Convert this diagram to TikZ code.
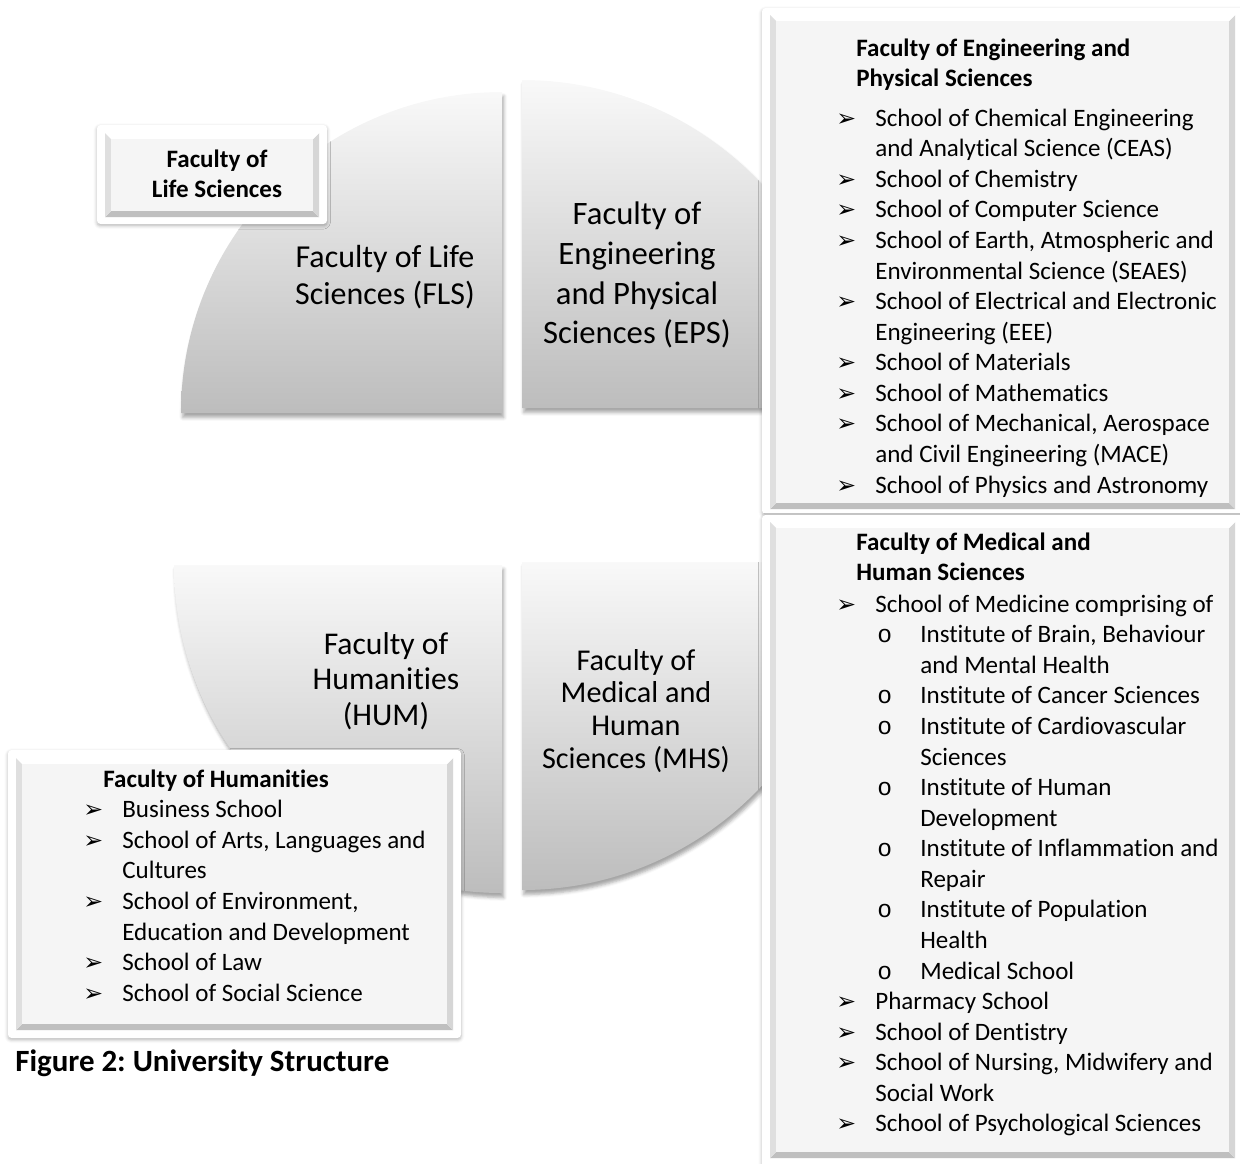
\documentclass[tikz,border=0pt]{standalone}
\usepackage{fontspec}
\setmainfont{Carlito}[Ligatures=NoCommon]
\newfontfamily\dingfont{DejaVu Sans}
\newfontfamily\circfont{Liberation Mono}
\usetikzlibrary{shadows.blur}
\frenchspacing

\newcommand{\arr}{\makebox[0.78cm][l]{\dingfont\fontsize{13.5}{13.5}\selectfont ➢}}
\newcommand{\gap}{\hspace*{0.78cm}}
\newcommand{\circb}{\makebox[0.9cm][l]{\hspace*{0.04cm}\circfont\fontsize{14}{14}\selectfont o}}
\newcommand{\subgap}{\hspace*{1.68cm}}
% x1 y1 x2 y2, pixel units, y downwards
\newcommand{\bevelbox}[4]{%
  \fill[gray!50] (#1,#4) -- (#3,#4) -- (#3-6,#4-6) -- (#1+6,#4-6) -- cycle;
  \fill[gray!32] (#3,#2) -- (#3,#4) -- (#3-6,#4-6) -- (#3-6,#2+6) -- cycle;
  \fill[white] (#1,#2) -- (#3,#2) -- (#3-6,#2+6) -- (#1+6,#2+6) -- cycle;
  \fill[gray!25] (#1,#2) -- (#1,#4) -- (#1+6,#4-6) -- (#1+6,#2+6) -- cycle;
  \fill[gray!8] (#1+6,#2+6) rectangle (#3-6,#4-6);
}

\tikzset{
  quarter/.style={top color=gray!5, bottom color=gray!52,
    blur shadow={shadow xshift=1pt, shadow yshift=-2.5pt, shadow opacity=35}},
  frame/.style={fill=white, rounded corners=2pt,
    blur shadow={shadow xshift=0pt, shadow yshift=-1pt, shadow opacity=30}},
  list/.style={anchor=north west, inner sep=0pt, align=left,
    font=\fontsize{14.25}{17.4}\selectfont},
  head/.style={list, font=\bfseries\fontsize{14.25}{17.4}\selectfont},
  seg/.style={align=center, inner sep=0pt}
}

\begin{document}
\begin{tikzpicture}[x=0.02cm,y=-0.02cm]
  \useasboundingbox (0,0) rectangle (1240,1163);
  \clip (0,0) rectangle (1240,1163);

  % the four faculties
  \path[quarter] (502,413) -- (502,92) arc[start angle=270, end angle=180, radius=321] -- cycle;
  \path[quarter] (522,408) -- (522,80) arc[start angle=270, end angle=360, radius=328] -- cycle;
  \path[quarter] (502,565) -- (174,565) arc[start angle=180, end angle=90, radius=328] -- cycle;
  \path[quarter] (522,562) -- (522,890) arc[start angle=90, end angle=0, radius=328] -- cycle;

  \node[seg, font=\fontsize{18.2}{21}\selectfont] (fls) at (385,277) {Faculty of Life\\Sciences (FLS)};
  \node[seg, font=\fontsize{18.6}{22.7}\selectfont] (eps) at (637,275) {Faculty of\\Engineering\\and Physical\\Sciences (EPS)};
  \node[seg, font=\fontsize{18}{20.1}\selectfont] (hum) at (386,681) {Faculty of\\Humanities\\(HUM)};
  \node[seg, font=\fontsize{17.2}{18.7}\selectfont] (mhs) at (636,711) {Faculty of\\Medical and\\Human\\Sciences (MHS)};

  % FLS box
  \path[frame] (97,125) rectangle (327,224);
  \bevelbox{105}{133}{319}{217}
  \node[seg, font=\bfseries\fontsize{14.25}{17.4}\selectfont] (flsbox) at (217,174) {Faculty of\\Life Sciences};

  % EPS box
  \path[frame] (762,8) rectangle (1246,514);
  \bevelbox{770}{15}{1235}{509}
  \node[head] (epstitle) at (856,34.5) {\strut Faculty of Engineering and\\Physical Sciences};
  \node[list] (epslist) at (836,104.5) {\strut\arr School of Chemical Engineering\\
    \gap and Analytical Science (CEAS)\\
    \arr School of Chemistry\\
    \arr School of Computer Science\\
    \arr School of Earth, Atmospheric and\\
    \gap Environmental Science (SEAES)\\
    \arr School of Electrical and Electronic\\
    \gap Engineering (EEE)\\
    \arr School of Materials\\
    \arr School of Mathematics\\
    \arr School of Mechanical, Aerospace\\
    \gap and Civil Engineering (MACE)\\
    \arr School of Physics and Astronomy};

  % MHS box
  \path[frame] (762,515) rectangle (1246,1172);
  \bevelbox{770}{522}{1235}{1158}
  \node[head] (mhstitle) at (856,528.5) {\strut Faculty of Medical and\\Human Sciences};
  \node[list] (mhslist) at (836,590.5) {\strut\arr School of Medicine comprising of\\
    \gap\circb Institute of Brain, Behaviour\\
    \subgap and Mental Health\\
    \gap\circb Institute of Cancer Sciences\\
    \gap\circb Institute of Cardiovascular\\
    \subgap Sciences\\
    \gap\circb Institute of Human\\
    \subgap Development\\
    \gap\circb Institute of Inflammation and\\
    \subgap Repair\\
    \gap\circb Institute of Population\\
    \subgap Health\\
    \gap\circb Medical School\\
    \arr Pharmacy School\\
    \arr School of Dentistry\\
    \arr School of Nursing, Midwifery and\\
    \gap Social Work\\
    \arr School of Psychological Sciences};

  % HUM box
  \path[frame] (8,750) rectangle (461,1038);
  \bevelbox{16}{758}{453}{1030}
  \node[head] (humtitle) at (103,765.5) {\strut Faculty of Humanities};
  \node[list] (humlist) at (83,796) {\strut\arr Business School\\
    \arr School of Arts, Languages and\\
    \gap Cultures\\
    \arr School of Environment,\\
    \gap Education and Development\\
    \arr School of Law\\
    \arr School of Social Science};

  \node[anchor=base west, inner sep=0pt, font=\bfseries\fontsize{17.6}{20}\selectfont] (caption) at (15,1071) {Figure 2: University Structure};
\end{tikzpicture}
\end{document}
